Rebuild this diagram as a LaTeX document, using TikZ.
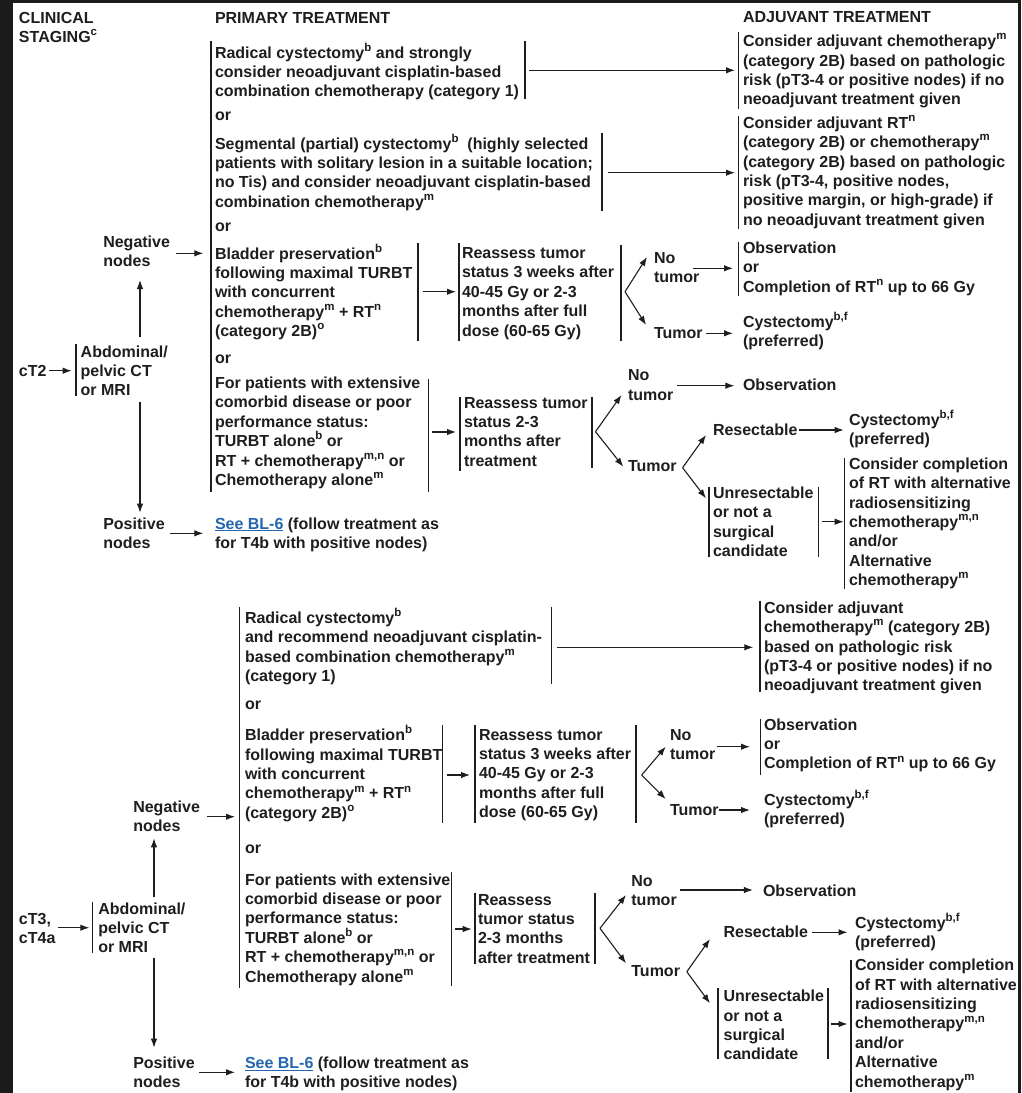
\documentclass[tikz,border=0pt]{standalone}
\usepackage{fontspec}
\setmainfont{Liberation Sans}
\usetikzlibrary{arrows.meta}
\definecolor{ink}{HTML}{1E1E1E}
\definecolor{framec}{HTML}{1D1B19}
\definecolor{bllink}{HTML}{2466B0}
\newcommand\su[1]{\smash{\raisebox{0.42em}{\fontsize{11.5}{11.5}\selectfont #1}}}
\newcommand\tb[1]{\begin{tabular}[t]{@{}l@{}}#1\end{tabular}}
\newcommand\lnk[1]{{\color{bllink}\underline{#1}}}
\newcommand\tf{\fontsize{16}{19.4}\selectfont\bfseries}
\newcommand\arrw[5]{\coordinate (#1s) at (#2,#3); \coordinate (#1e) at (#4,#5); \draw[arr] (#1s) -- (#1e);}
\newcommand\brkl[4]{\coordinate (#1t) at (#2,#3); \coordinate (#1b) at (#2,#4); \draw[brk] (#1t) -- (#1b);}
\newcommand\fork[7]{\coordinate (#1o) at (#2,#3); \coordinate (#1u) at (#4,#5); \coordinate (#1d) at (#6,#7); \draw[arr] (#1o) -- (#1u); \draw[arr] (#1o) -- (#1d);}
\begin{document}
\begin{tikzpicture}[x=1pt,y=-1pt,
  txt/.style={anchor=base west, inner sep=0pt, outer sep=0pt, text=ink, font=\tf},
  arr/.style={draw=ink, line width=1.1pt, -{Latex[length=9pt,width=6.5pt]}},
  brk/.style={draw=ink, line width=1.2pt}]
\useasboundingbox (0,0) rectangle (1021,1093);
\fill[white] (0,0) rectangle (1021,1093);
\fill[framec] (0,0) rectangle (13,1093);
\fill[framec] (0,0) rectangle (1021,3);
\fill[framec] (1018,0) rectangle (1021,1093);

% ---------- headers ----------
\node[txt] (hcs) at (19,23) {\tb{CLINICAL\\STAGING\su{c}}};
\node[txt] (hpt) at (215,23) {PRIMARY TREATMENT};
\node[txt] (hat) at (743,22) {ADJUVANT TREATMENT};

% ---------- upper half (cT2) ----------
\brkl{pa}{211}{41}{492}
\node[txt] (p1) at (215,58) {\tb{Radical cystectomy\su{b} and strongly\\consider neoadjuvant cisplatin-based\\combination chemotherapy (category 1)}};
\brkl{p1r}{525}{41}{99}
\node[txt] (or1) at (215,120) {or};
\node[txt] (p2) at (215,149) {\tb{Segmental (partial) cystectomy\su{b}\ \ (highly selected\\patients with solitary lesion in a suitable location;\\no Tis) and consider neoadjuvant cisplatin-based\\combination chemotherapy\su{m}}};
\brkl{p2r}{602}{133}{211}
\node[txt] (or2) at (215,231) {or};
\node[txt] (p3) at (215,259) {\tb{Bladder preservation\su{b}\\following maximal TURBT\\with concurrent\\chemotherapy\su{m} + RT\su{n}\\(category 2B)\su{o}}};
\brkl{p3r}{418}{243}{341}
\node[txt] (or3) at (215,363) {or};
\node[txt] (p4) at (215,388.5) {\tb{For patients with extensive\\comorbid disease or poor\\performance status:\\TURBT alone\su{b} or\\RT + chemotherapy\su{m,n} or\\Chemotherapy alone\su{m}}};
\brkl{p4r}{428.5}{379}{492}

\arrw{a1}{529.3}{70.3}{735}{70.3}
\brkl{a1l}{738.3}{32}{109}
\node[txt] (adj1) at (743,46.7) {\tb{Consider adjuvant chemotherapy\su{m}\\(category 2B) based on pathologic\\risk (pT3-4 or positive nodes) if no\\neoadjuvant treatment given}};
\arrw{a2}{607.7}{172.7}{735}{172.7}
\brkl{a2l}{738.3}{116}{229}
\node[txt] (adj2) at (743,128.3) {\tb{Consider adjuvant RT\su{n}\\(category 2B) or chemotherapy\su{m}\\(category 2B) based on pathologic\\risk (pT3-4, positive nodes,\\positive margin, or high-grade) if\\no neoadjuvant treatment given}};

\arrw{a3}{423}{291.7}{456}{291.7}
\brkl{r1l}{459}{243}{341}
\node[txt] (r1) at (462,258.5) {\tb{Reassess tumor\\status 3 weeks after\\40-45 Gy or 2-3\\months after full\\dose (60-65 Gy)}};
\brkl{r1r}{621}{245}{341}
\fork{f1}{625}{291.7}{647}{257}{646}{325}
\node[txt] (nt1) at (654,263.5) {\tb{No\\tumor}};
\node[txt] (t1) at (654,338.5) {Tumor};
\arrw{a4}{693}{268.3}{733}{268.3}
\brkl{o1l}{738.5}{242}{296}
\node[txt] (obs1) at (743,253.5) {\tb{Observation\\or\\Completion of RT\su{n} up to 66 Gy}};
\arrw{a5}{706}{333.3}{733}{333.3}
\node[txt] (cy1) at (743,327) {\tb{Cystectomy\su{b,f}\\(preferred)}};

\arrw{a6}{432.3}{432}{456}{432}
\brkl{r2l}{460}{397}{471}
\node[txt] (r2) at (464,408) {\tb{Reassess tumor\\status 2-3\\months after\\treatment}};
\brkl{r2r}{592}{397}{468}
\fork{f2}{595.5}{431.7}{621.5}{395}{623.3}{466.7}
\node[txt] (nt2) at (628,380.7) {\tb{No\\tumor}};
\arrw{a7}{677}{385.7}{734.4}{385.7}
\node[txt] (obs2) at (743,390) {Observation};
\node[txt] (t2) at (628,471.7) {Tumor};
\fork{f3}{682.6}{467.7}{706}{435}{706}{498.3}
\node[txt] (res1) at (713,435) {Resectable};
\arrw{a8}{798.5}{430}{843.7}{430}
\node[txt] (cy2) at (849,425) {\tb{Cystectomy\su{b,f}\\(preferred)}};
\brkl{u1l}{709}{486.7}{556.7}
\node[txt] (un1) at (713,498.3) {\tb{Unresectable\\or not a\\surgical\\candidate}};
\brkl{u1r}{818.5}{486.7}{556.7}
\arrw{a9}{822}{521.7}{843.7}{521.7}
\brkl{c1l}{844.8}{458.3}{589.3}
\node[txt] (cc1) at (849,469.3) {\tb{Consider completion\\of RT with alternative\\radiosensitizing\\chemotherapy\su{m,n}\\and/or\\Alternative\\chemotherapy\su{m}}};

\node[txt] (neg1) at (103.3,247) {\tb{Negative\\nodes}};
\arrw{a10}{175.7}{253.3}{203.3}{253.3}
\arrw{a11}{140}{336.7}{140}{280}
\node[txt] (ct2) at (19,376) {cT2};
\arrw{a12}{49}{370.7}{71.7}{370.7}
\brkl{ab1l}{76}{344.3}{395.7}
\node[txt] (abd1) at (80.7,357) {\tb{Abdominal/\\pelvic CT\\or MRI}};
\arrw{a13}{140}{401.7}{140}{512.7}
\node[txt] (pos1) at (103.3,529) {\tb{Positive\\nodes}};
\arrw{a14}{170}{533.3}{203.3}{533.3}
\node[txt] (see1) at (215,529) {\tb{\lnk{See BL-6} (follow treatment as\\for T4b with positive nodes)}};

% ---------- lower half (cT3, cT4a) ----------
\brkl{qa}{239.3}{606.7}{987.7}
\node[txt] (q1) at (245,623.3) {\tb{Radical cystectomy\su{b}\\and recommend neoadjuvant cisplatin-\\based combination chemotherapy\su{m}\\(category 1)}};
\brkl{q1r}{551.7}{606.7}{684}
\arrw{b1}{557.3}{647.3}{753.3}{647.3}
\brkl{b1l}{760}{600.7}{692.3}
\node[txt] (adj3) at (764,613.3) {\tb{Consider adjuvant\\chemotherapy\su{m} (category 2B)\\based on pathologic risk\\(pT3-4 or positive nodes) if no\\neoadjuvant treatment given}};
\node[txt] (or4) at (245,709.3) {or};
\node[txt] (q2) at (245,740.7) {\tb{Bladder preservation\su{b}\\following maximal TURBT\\with concurrent\\chemotherapy\su{m} + RT\su{n}\\(category 2B)\su{o}}};
\brkl{q2r}{442.5}{725}{822.7}
\arrw{b2}{447}{775}{470}{775}
\brkl{r3l}{475}{725}{822.7}
\node[txt] (r3) at (479,740) {\tb{Reassess tumor\\status 3 weeks after\\40-45 Gy or 2-3\\months after full\\dose (60-65 Gy)}};
\brkl{r3r}{636}{725}{823}
\fork{f4}{641.7}{775}{665.7}{746.7}{665.7}{799}
\node[txt] (nt3) at (670,740) {\tb{No\\tumor}};
\arrw{b3}{717.3}{746.7}{750}{746.7}
\brkl{o3l}{760.7}{719.3}{775}
\node[txt] (obs3) at (764,730) {\tb{Observation\\or\\Completion of RT\su{n} up to 66 Gy}};
\node[txt] (t3) at (670,815) {Tumor};
\arrw{b4}{719}{810}{750}{810}
\node[txt] (cy3) at (764,805) {\tb{Cystectomy\su{b,f}\\(preferred)}};

\node[txt] (neg2) at (133.3,812) {\tb{Negative\\nodes}};
\arrw{b5}{206.7}{816.7}{235}{816.7}
\node[txt] (or5) at (245,853.3) {or};
\node[txt] (q3) at (245,885) {\tb{For patients with extensive\\comorbid disease or poor\\performance status:\\TURBT alone\su{b} or\\RT + chemotherapy\su{m,n} or\\Chemotherapy alone\su{m}}};
\brkl{q3r}{451.5}{872.3}{985.7}
\arrw{b6}{455}{929}{471.7}{929}
\brkl{r4l}{475}{893}{964}
\node[txt] (r4) at (478,905) {\tb{Reassess\\tumor status\\2-3 months\\after treatment}};
\brkl{r4r}{595}{893}{964}
\fork{f5}{600}{928.3}{626}{895}{626}{963.3}
\node[txt] (nt4) at (631.4,886) {\tb{No\\tumor}};
\arrw{b7}{679.6}{890}{752.9}{890}
\node[txt] (obs4) at (763,896) {Observation};
\node[txt] (t4) at (631.4,976) {Tumor};
\fork{f6}{686.8}{971.7}{710}{939}{710}{1003.3}
\node[txt] (res2) at (723.6,937.3) {Resectable};
\arrw{b8}{811.8}{932.3}{847.5}{932.3}
\node[txt] (cy4) at (855,928.3) {\tb{Cystectomy\su{b,f}\\(preferred)}};
\brkl{u2l}{718}{988.3}{1059}
\node[txt] (un2) at (723.6,1001.7) {\tb{Unresectable\\or not a\\surgical\\candidate}};
\brkl{u2r}{828}{988.3}{1059}
\arrw{b9}{830.7}{1024}{847.5}{1024}
\brkl{c2l}{851}{960}{1091.7}
\node[txt] (cc2) at (855,970.7) {\tb{Consider completion\\of RT with alternative\\radiosensitizing\\chemotherapy\su{m,n}\\and/or\\Alternative\\chemotherapy\su{m}}};

\node[txt] (ct3) at (19,924.3) {\tb{cT3,\\cT4a}};
\arrw{b10}{58.3}{927.7}{89.3}{927.7}
\brkl{ab2l}{92.7}{901.7}{953.3}
\node[txt] (abd2) at (98.3,914) {\tb{Abdominal/\\pelvic CT\\or MRI}};
\arrw{b11}{154}{896.7}{154}{838.3}
\arrw{b12}{154}{958.3}{154}{1047.7}
\node[txt] (pos2) at (133.3,1068.3) {\tb{Positive\\nodes}};
\arrw{b13}{199}{1072.3}{235}{1072.3}
\node[txt] (see2) at (245,1068.3) {\tb{\lnk{See BL-6} (follow treatment as\\for T4b with positive nodes)}};
\end{tikzpicture}
\end{document}
